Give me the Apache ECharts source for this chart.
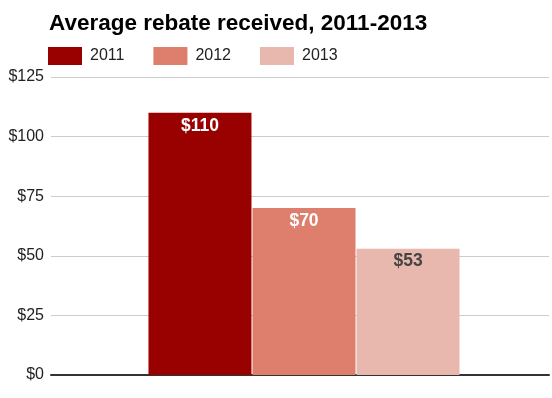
<!DOCTYPE html>
<html>
<head>
    <meta charset="UTF-8">
    <title></title>
    <script src="https://cdn.jsdelivr.net/npm/echarts@6/dist/echarts.min.js"></script>
    <style>
        html, body { margin: 0; padding: 0; background: #fff; }
        #container { width: 552px; height: 398px; }
    </style>
</head>
<body>
    <div id="container"></div>
    <script type="text/javascript">
        var titleText = 'Average rebate received, 2011-2013';
        var categories = [''];
        var years = ['2011', '2012', '2013'];
        var values = [110, 70, 53];
        var colors = ['#990000', '#de7e6c', '#e8b8af'];
        var labelColors = ['#ffffff', '#ffffff', '#444444'];
        var yTicks = [0, 25, 50, 75, 100, 125];

        var font = 'Liberation Sans, Arial';
        var yMin = yTicks[0];
        var yMax = yTicks[yTicks.length - 1];

        var series = [];
        for (var i = 0; i < years.length; i++) {
            series.push({
                name: years[i],
                type: 'bar',
                xAxisIndex: 1,
                yAxisIndex: 1,
                data: [values[i]],
                barWidth: 103,
                barGap: '1%',
                itemStyle: { color: colors[i] },
                label: {
                    show: true,
                    position: 'insideTop',
                    distance: 4,
                    formatter: '${c}',
                    color: labelColors[i],
                    fontFamily: font,
                    fontWeight: 'bold',
                    fontSize: 17.5
                }
            });
        }

        var chart = echarts.init(document.getElementById('container'));
        chart.setOption({
            animation: false,
            title: {
                text: titleText,
                left: 44,
                top: 7,
                textStyle: {
                    fontFamily: font,
                    fontWeight: 'bold',
                    fontSize: 22.5,
                    color: '#000'
                }
            },
            legend: {
                data: years,
                left: 43,
                top: 42,
                itemWidth: 34,
                itemHeight: 18,
                itemGap: 29,
                icon: 'rect',
                textStyle: {
                    fontFamily: font,
                    fontSize: 16,
                    color: '#222',
                    padding: [0, 0, 0, 3]
                }
            },
            // grid 0 carries the value axis and gridlines, grid 1 the bars
            grid: [
                { left: 51, right: 3, top: 77, bottom: 23 },
                { left: 56, width: 498, top: 77, bottom: 23 }
            ],
            xAxis: [
                {
                    type: 'category',
                    gridIndex: 0,
                    data: categories,
                    axisTick: { show: false },
                    axisLabel: { show: false },
                    axisLine: { lineStyle: { color: '#333', width: 2 } }
                },
                {
                    type: 'category',
                    gridIndex: 1,
                    data: categories,
                    show: false
                }
            ],
            yAxis: [
                {
                    type: 'value',
                    gridIndex: 0,
                    min: yMin,
                    max: yMax,
                    interval: 25,
                    axisLine: { show: false },
                    axisTick: { show: false },
                    splitLine: { lineStyle: { color: '#cccccc' } },
                    axisLabel: {
                        margin: 7,
                        formatter: '${value}',
                        fontFamily: font,
                        fontSize: 16,
                        color: '#222'
                    }
                },
                {
                    type: 'value',
                    gridIndex: 1,
                    min: yMin,
                    max: yMax,
                    interval: 25,
                    show: false
                }
            ],
            series: series
        });
    </script>
</body>
</html>
